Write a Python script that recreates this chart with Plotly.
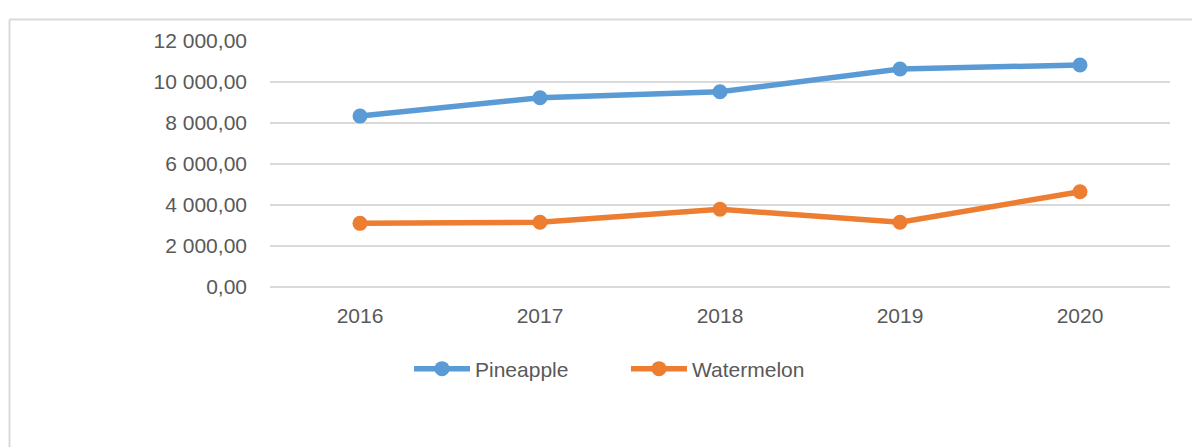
import plotly.graph_objects as go

years = ["2016", "2017", "2018", "2019", "2020"]
pineapple = [8340, 9235, 9525, 10635, 10830]
watermelon = [3105, 3155, 3790, 3155, 4650]

font_family = "Liberation Sans, Arial, sans-serif"
text_color = "#595959"
grid_color = "#D9D9D9"

fig = go.Figure()
fig.add_trace(go.Scatter(
    x=years, y=pineapple, name="Pineapple", mode="lines+markers",
    line=dict(color="#5B9BD5", width=5.5),
    marker=dict(color="#5B9BD5", size=15),
))
fig.add_trace(go.Scatter(
    x=years, y=watermelon, name="Watermelon", mode="lines+markers",
    line=dict(color="#ED7D31", width=5.5),
    marker=dict(color="#ED7D31", size=15),
))

L, R, T, B = 270, 22, 41, 160
W, H = 1192, 447
pw, ph = W - L - R, H - T - B
bx = (9.5 - L) / pw
by = 1 + (T - 19.5) / ph

fig.update_layout(
    width=W, height=H,
    margin=dict(l=L, r=R, t=T, b=B),
    paper_bgcolor="white", plot_bgcolor="white",
    separators=", ",
    font=dict(family=font_family, size=21, color=text_color),
    showlegend=True,
    legend=dict(
        orientation="h", x=(414 - 5 - L) / pw, xanchor="left", y=(T + ph - 369) / ph,
        yanchor="middle", font=dict(size=21, color=text_color),
        itemwidth=56, entrywidth=146, traceorder="normal",
    ),
    xaxis=dict(
        type="category", range=[-0.5, 4.5], showgrid=False, zeroline=False,
        showline=False, ticks="", ticklabelstandoff=14,
        tickfont=dict(size=21, color=text_color),
    ),
    yaxis=dict(
        range=[0, 12000], dtick=2000, tick0=0, tickformat=",.2f",
        showgrid=True, gridcolor=grid_color, gridwidth=1.5,
        zeroline=True, zerolinecolor=grid_color, zerolinewidth=1.5,
        showline=False, ticks="", ticklabelstandoff=22,
        tickfont=dict(size=21, color=text_color),
    ),
    shapes=[
        dict(type="line", xref="paper", yref="paper", x0=bx, y0=by, x1=1.1, y1=by,
             line=dict(color=grid_color, width=2)),
        dict(type="line", xref="paper", yref="paper", x0=bx, y0=by, x1=bx, y1=-1.0,
             line=dict(color=grid_color, width=2)),
    ],
)

fig.write_html(
    "out.html",
    config={"displayModeBar": False},
    post_script="document.body.style.margin='0';",
)
